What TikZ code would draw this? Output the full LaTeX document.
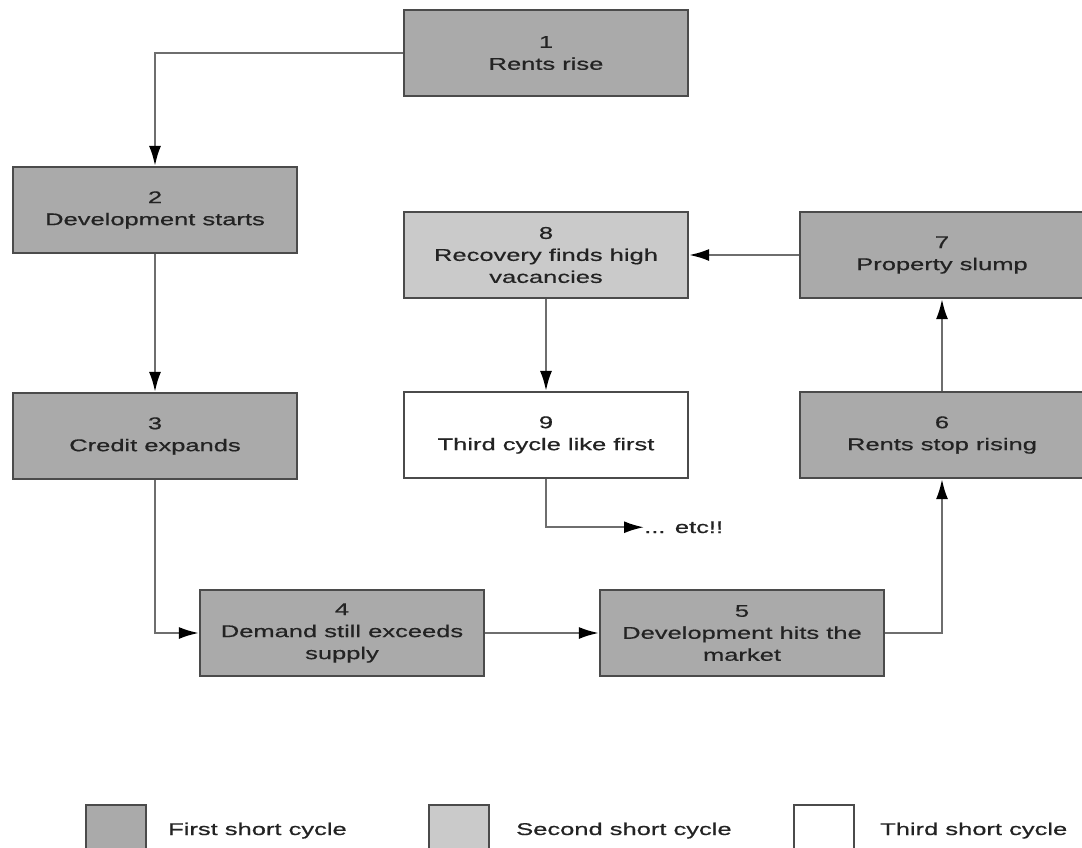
\documentclass[tikz,border=0pt]{standalone}
\usepackage{fontspec}
\setmainfont{Liberation Sans}
\newfontfamily\wfont[FakeStretch=1.5,FakeBold=0.6]{Liberation Sans}
\usetikzlibrary{arrows.meta}
\definecolor{firstc}{RGB}{170,170,170}
\definecolor{secondc}{RGB}{202,202,202}
\definecolor{edgec}{RGB}{75,75,75}
\definecolor{linec}{RGB}{110,110,110}
\definecolor{textc}{RGB}{35,35,35}
\begin{document}
\begin{tikzpicture}[x=1pt,y=-1pt,
  box/.style={draw=edgec, line width=2.2pt, minimum width=284pt, minimum height=86pt,
    inner sep=0pt, align=center, font=\wfont\fontsize{17}{22}\selectfont, text=textc},
  firstbox/.style={box, fill=firstc},
  secondbox/.style={box, fill=secondc},
  thirdbox/.style={box, fill=white},
  conn/.style={draw=linec, line width=2.2pt, -{Latex[length=20pt,width=12pt,color=black]}},
  legsq/.style={draw=edgec, line width=2.2pt, minimum width=60pt, minimum height=60pt, inner sep=0pt, anchor=north west},
  legtext/.style={anchor=base west, inner sep=0pt, font=\wfont\fontsize{17}{22}\selectfont, text=textc}
  ]
\useasboundingbox (0,0) rectangle (1082,847);

\node[firstbox]  (b1) at (546,53)  {1\\Rents rise};
\node[firstbox]  (b2) at (155,210) {2\\Development starts};
\node[firstbox]  (b3) at (155,436) {3\\Credit expands};
\node[firstbox]  (b4) at (342,633) {4\\Demand still exceeds\\supply};
\node[firstbox]  (b5) at (742,633) {5\\Development hits the\\market};
\node[firstbox]  (b6) at (942,435) {6\\Rents stop rising};
\node[firstbox]  (b7) at (942,255) {7\\Property slump};
\node[secondbox] (b8) at (546,255) {8\\Recovery finds high\\vacancies};
\node[thirdbox]  (b9) at (546,435) {9\\Third cycle like first};
\node[legtext]   (etc) at (644,533) {... etc!!};

\draw[conn] (b1.west) -| (b2.north);
\draw[conn] (b2.south) -- (b3.north);
\draw[conn] (b3.south) |- (b4.west);
\draw[conn] (b4.east) -- (b5.west);
\draw[conn] (b5.east) -| (b6.south);
\draw[conn] (b6.north) -- (b7.south);
\draw[conn] (b7.west) -- (b8.east);
\draw[conn] (b8.south) -- (b9.north);
\draw[conn] (b9.south) |- (etc.west);

\node[legsq, fill=firstc]  (l1) at (85,804) {};
\node[legsq, fill=secondc] (l2) at (428,804) {};
\node[legsq, fill=white]   (l3) at (793,804) {};
\node[legtext] (t1) at (168,835) {First short cycle};
\node[legtext] (t2) at (516,835) {Second short cycle};
\node[legtext] (t3) at (880,835) {Third short cycle};
\end{tikzpicture}
\end{document}
